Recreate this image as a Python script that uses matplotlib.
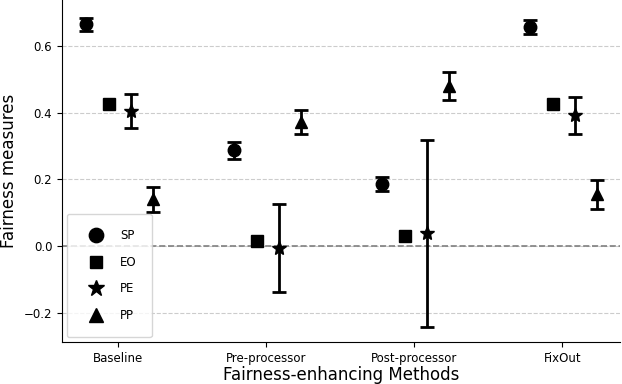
import matplotlib.pyplot as plt
from matplotlib.lines import Line2D
import numpy as np

methods = ["Baseline", "Pre-processor", "Post-processor", "FixOut"]
measures = ["SP", "EO", "PE", "PP"]
markers = ["o", "s", "*", "^"]

# mean values per measure, one entry per method
sp = [0.665, 0.287, 0.186, 0.657]
eo = [0.425, 0.015, 0.031, 0.425]
pe = [0.405, -0.006, 0.038, 0.392]
pp = [0.140, 0.372, 0.480, 0.155]

# error bar half widths (EO has none)
sp_err = [0.020, 0.025, 0.020, 0.020]
eo_err = [0.0, 0.0, 0.0, 0.0]
pe_err = [0.050, 0.132, 0.280, 0.055]
pp_err = [0.037, 0.036, 0.042, 0.043]

values = [sp, eo, pe, pp]
errors = [sp_err, eo_err, pe_err, pp_err]
offsets = [-0.215, -0.065, 0.085, 0.235]
sizes = {"o": 9, "s": 8, "*": 10.5, "^": 9}

fig = plt.figure(figsize=(6.22, 3.84), dpi=100)
ax = fig.add_axes([0.0997, 0.109, 0.8971, 0.891])

x = np.arange(len(methods))
for vals, errs, m, lab, off in zip(values, errors, markers, measures, offsets):
    ax.errorbar(x + off, vals, yerr=errs if any(errs) else None,
                fmt=m, color="black", ms=sizes[m], elinewidth=2, capsize=5,
                capthick=2, zorder=3)

ax.axhline(0, color="gray", ls="--", lw=1.2, zorder=1)
ax.yaxis.grid(True, ls="--", color="#cccccc", lw=0.8, zorder=0)
ax.set_axisbelow(True)

ax.set_xticks(x)
ax.set_xticklabels(methods, fontsize=8.5)
ax.tick_params(axis="y", labelsize=8.5)
ax.set_yticks([-0.2, 0.0, 0.2, 0.4, 0.6])
ax.set_xlim(-0.38, 3.39)
ax.set_ylim(-0.288, 0.738)

ax.spines["top"].set_visible(False)
ax.spines["right"].set_visible(False)

ax.set_ylabel("Fairness measures", fontsize=12)
ax.set_xlabel("Fairness-enhancing Methods", fontsize=12, labelpad=1)

handles = [Line2D([], [], ls="none", marker=m, color="black",
                  ms=sizes[m] * 1.15) for m in markers]
ax.legend(handles, measures, loc="lower left", fontsize=8.5,
          labelspacing=1.15, borderpad=1.3, handlelength=2.4,
          handletextpad=0.8, frameon=True, borderaxespad=0.4)

fig.savefig("out.png", dpi=100)
